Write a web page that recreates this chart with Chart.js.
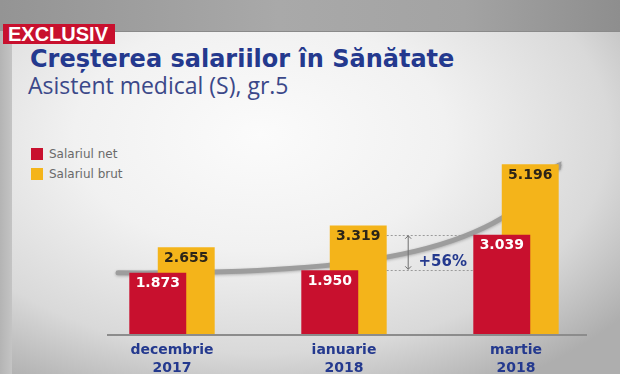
<!DOCTYPE html>
<html>
<head>
<meta charset="utf-8">
<script src="https://cdn.jsdelivr.net/npm/chart.js@4/dist/chart.umd.min.js"></script>
<style>
  html, body { margin: 0; padding: 0; }
  body { width: 620px; height: 374px; overflow: hidden; position: relative;
         background: linear-gradient(90deg, #949494 0%, #a9a9a9 45%, #a3a3a3 75%, #8e8e8e 100%); }
  #panel { position: absolute; left: 0; top: 31px; width: 620px; height: 343px;
           border-top: 1px solid #8a8a8a;
           background: radial-gradient(ellipse 75% 85% at 42% 30%, #fbfbfb 0%, #f1f1f1 40%, #d9d9d9 75%, #aeaeae 100%); }
  #edge { position: absolute; left: 0; top: 31px; width: 12px; height: 343px;
          background: linear-gradient(90deg, #b4b4b4, #c4c4c4); }
  #badge { position: absolute; left: 3px; top: 24px; width: 112px; height: 20px; background: #c8102e;
           color: #fff; font: bold 20px/20px "Liberation Sans", Arial, sans-serif; padding-left: 5px; box-sizing: border-box; }
  #title { position: absolute; left: 30px; top: 47px; color: #24398e;
           font: bold 24px/24px "DejaVu Sans", sans-serif; white-space: nowrap; }
  #subtitle { position: absolute; left: 28px; top: 74px; color: #3b4889;
              font: 400 23px/23px "Open Sans", sans-serif; white-space: nowrap; }
  #legend { position: absolute; left: 31px; top: 148px; font: 12px/12px "DejaVu Sans", sans-serif; color: #6a6a6a; }
  #legend div { display: flex; align-items: center; height: 12px; margin-bottom: 7.5px; }
  #legend span.box { width: 12px; height: 12px; margin-right: 6px; }
  #wrap { position: absolute; left: 0; top: 0; width: 620px; height: 374px; }
</style>
</head>
<body>
<div id="panel"></div>
<div id="edge"></div>
<div id="badge">EXCLUSIV</div>
<div id="title">Creșterea salariilor în Sănătate</div>
<div id="subtitle">Asistent medical (S), gr.5</div>
<div id="legend"></div>
<div id="wrap"><canvas id="salarii"></canvas></div>
<script>
// date
const luni = [['decembrie', '2017'], ['ianuarie', '2018'], ['martie', '2018']];
const salariulNet = [1873, 1950, 3039];
const salariulBrut = [2655, 3319, 5196];

const ROSU = '#c8102e';
const GALBEN = '#f4b41a';
const BLEUMARIN = '#24398e';

// format 1.873
function fmt(v) {
    return String(v).replace(/\B(?=(\d{3})+(?!\d))/g, '.');
}

// curba gri + linia de baza (sub bare)
const fundal = {
    id: 'fundal',
    beforeDatasetsDraw(chart) {
        const ctx = chart.ctx;
        const a = chart.chartArea;
        const y = chart.scales.y;
        const brut = chart.getDatasetMeta(1).data;
        const net = chart.getDatasetMeta(0).data;
        const last = brut.length - 1;

        const p0 = { x: a.left + 32, y: y.getPixelForValue(salariulNet[0]) };
        const p3 = { x: brut[last].x + brut[last].width / 2, y: y.getPixelForValue(salariulBrut[last]) + 1 };
        const p1 = { x: brut[1].x + brut[1].width / 2 - 6, y: p0.y + 2 };
        const p2 = { x: net[last].x, y: p0.y - 24 };

        ctx.save();
        ctx.strokeStyle = '#9d9d9d';
        ctx.lineWidth = 5;
        ctx.lineCap = 'round';
        ctx.shadowColor = 'rgba(0,0,0,0.25)';
        ctx.shadowBlur = 3;
        ctx.shadowOffsetY = 1;
        ctx.beginPath();
        ctx.moveTo(p0.x, p0.y);
        ctx.bezierCurveTo(p1.x, p1.y, p2.x, p2.y, p3.x, p3.y);
        ctx.stroke();
        // varful sagetii
        const ang = Math.atan2(p3.y - p2.y, p3.x - p2.x);
        ctx.fillStyle = '#9d9d9d';
        ctx.beginPath();
        ctx.moveTo(p3.x + Math.cos(ang) * 5, p3.y + Math.sin(ang) * 5);
        ctx.lineTo(p3.x + Math.cos(ang + 2.2) * 5, p3.y + Math.sin(ang + 2.2) * 5);
        ctx.lineTo(p3.x + Math.cos(ang - 2.2) * 5, p3.y + Math.sin(ang - 2.2) * 5);
        ctx.closePath();
        ctx.fill();
        ctx.restore();

        // linia de baza
        ctx.save();
        ctx.strokeStyle = '#8c8c8c';
        ctx.lineWidth = 2;
        ctx.beginPath();
        ctx.moveTo(a.left + 21, a.bottom + 1);
        ctx.lineTo(a.right - 15, a.bottom + 1);
        ctx.stroke();
        ctx.restore();
    },
    afterDatasetsDraw(chart) {
        const ctx = chart.ctx;
        const y = chart.scales.y;
        const net = chart.getDatasetMeta(0).data;
        const brut = chart.getDatasetMeta(1).data;

        // valori pe bare
        ctx.save();
        ctx.font = 'bold 14px "DejaVu Sans", sans-serif';
        ctx.textAlign = 'center';
        ctx.textBaseline = 'middle';
        brut.forEach((b, i) => {
            ctx.fillStyle = '#2b2418';
            ctx.fillText(fmt(salariulBrut[i]), b.x, b.y + 11);
        });
        net.forEach((b, i) => {
            ctx.fillStyle = '#ffffff';
            ctx.fillText(fmt(salariulNet[i]), b.x, b.y + 11);
        });
        ctx.restore();

        // +56% intre ianuarie si martie (net)
        const yTop = y.getPixelForValue(salariulNet[2]);
        const yBot = y.getPixelForValue(salariulNet[1]);
        const x0 = brut[1].x + brut[1].width / 2;
        const x1 = net[2].x - net[2].width / 2;
        ctx.save();
        ctx.strokeStyle = '#9a9a9a';
        ctx.lineWidth = 1;
        ctx.setLineDash([2, 2]);
        ctx.beginPath();
        ctx.moveTo(x0, Math.round(yTop) + 0.5); ctx.lineTo(x1, Math.round(yTop) + 0.5);
        ctx.moveTo(x0, Math.round(yBot) + 0.5); ctx.lineTo(x1, Math.round(yBot) + 0.5);
        ctx.stroke();
        ctx.setLineDash([]);
        const xa = x0 + 21.5;
        ctx.strokeStyle = '#6d6d6d';
        ctx.beginPath();
        ctx.moveTo(xa, yTop + 1); ctx.lineTo(xa, yBot - 1);
        ctx.moveTo(xa - 3, yTop + 4); ctx.lineTo(xa, yTop + 1); ctx.lineTo(xa + 3, yTop + 4);
        ctx.moveTo(xa - 3, yBot - 4); ctx.lineTo(xa, yBot - 1); ctx.lineTo(xa + 3, yBot - 4);
        ctx.stroke();
        const proc = Math.round((salariulNet[2] / salariulNet[1] - 1) * 100);
        ctx.fillStyle = BLEUMARIN;
        ctx.font = 'bold 15px "DejaVu Sans", sans-serif';
        ctx.textAlign = 'center';
        ctx.textBaseline = 'middle';
        ctx.fillText('+' + proc + '%', (xa + x1) / 2 + 2, yBot - 8);
        ctx.restore();
    }
};

const ctx = document.getElementById('salarii').getContext('2d');
const chart = new Chart(ctx, {
    type: 'bar',
    data: {
        labels: luni,
        datasets: [{
            label: 'Salariul net',
            data: salariulNet,
            backgroundColor: ROSU,
            categoryPercentage: 0.331,
            barPercentage: 2.0
        }, {
            label: 'Salariul brut',
            data: salariulBrut,
            backgroundColor: GALBEN,
            categoryPercentage: 0.331,
            barPercentage: 2.0
        }]
    },
    options: {
        responsive: true,
        maintainAspectRatio: false,
        animation: false,
        layout: { padding: { top: 138, left: 86, right: 18, bottom: 0 } },
        scales: {
            x: {
                grid: { display: false, drawTicks: false },
                border: { display: false },
                ticks: {
                    color: BLEUMARIN,
                    padding: 7,
                    font: { family: '"DejaVu Sans", sans-serif', weight: 'bold', size: 14, lineHeight: 1.3 }
                },
                afterFit: s => { s.height = 40; }
            },
            y: { display: false, min: 0, max: 6000 }
        },
        plugins: {
            legend: { display: false },
            tooltip: { enabled: false }
        }
    },
    plugins: [fundal]
});

// legenda HTML din seturile de date
const leg = document.getElementById('legend');
chart.data.datasets.forEach(ds => {
    const row = document.createElement('div');
    row.innerHTML = '<span class="box" style="background:' + ds.backgroundColor + '"></span>' + ds.label;
    leg.appendChild(row);
});
</script>
</body>
</html>
